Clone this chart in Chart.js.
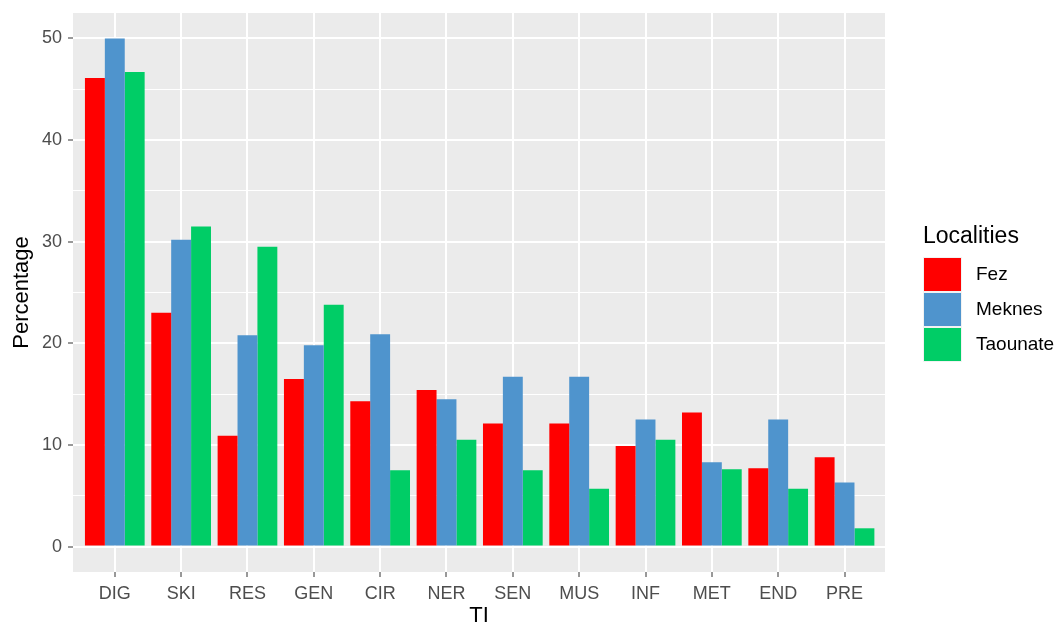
<!DOCTYPE html>
<html><head><meta charset="utf-8">
<script src="https://cdn.jsdelivr.net/npm/chart.js@4.4.1/dist/chart.umd.min.js"></script>
<style>html,body{margin:0;padding:0;background:#fff;overflow:hidden}</style>
</head><body>
<canvas id="c" width="1062" height="625" style="width:1062px;height:625px;display:block"></canvas>
<script>
const categories = ['DIG','SKI','RES','GEN','CIR','NER','SEN','MUS','INF','MET','END','PRE'];
const fez      = [46.1, 23.0, 10.9, 16.5, 14.3, 15.4, 12.1, 12.1, 9.9, 13.2, 7.7, 8.8];
const meknes   = [50.0, 30.2, 20.8, 19.8, 20.9, 14.5, 16.7, 16.7, 12.5, 8.3, 12.5, 6.3];
const taounate = [46.7, 31.5, 29.5, 23.8, 7.5, 10.5, 7.5, 5.7, 10.5, 7.6, 5.7, 1.8];
const seriesNames = ['Fez', 'Meknes', 'Taounate'];
const yMajorTicks = [0, 10, 20, 30, 40, 50];
const yMinorTicks = [5, 15, 25, 35, 45];

const FONT = "'Liberation Sans', Arial, sans-serif";
const colors = ['#FF0000', '#4F94CD', '#00CD66'];
const seriesValues = [fez, meknes, taounate];

const panelBg = {
  id: 'panelBg',
  beforeDraw(chart) {
    const {ctx, chartArea: a} = chart;
    ctx.save();
    ctx.fillStyle = '#EBEBEB';
    ctx.fillRect(a.left, a.top, a.right - a.left, a.bottom - a.top);
    ctx.restore();
  }
};

const ggLegend = {
  id: 'ggLegend',
  afterDraw(chart) {
    const ctx = chart.ctx;
    ctx.save();
    const x0 = 923;
    ctx.fillStyle = '#000';
    ctx.font = "23px " + FONT;
    ctx.textBaseline = 'alphabetic';
    ctx.textAlign = 'left';
    ctx.fillText('Localities', x0, 243);
    chart.data.datasets.forEach((ds, i) => {
      const y = 257 + i * 35;
      ctx.fillStyle = '#F2F2F2';
      ctx.fillRect(x0, y, 39, 35);
      ctx.fillStyle = ds.backgroundColor;
      ctx.fillRect(x0 + 1, y + 1, 37, 33);
      ctx.fillStyle = '#000';
      ctx.font = "19px " + FONT;
      ctx.textBaseline = 'middle';
      ctx.fillText(ds.label, 976, y + 18);
    });
    ctx.restore();
  }
};

new Chart(document.getElementById('c'), {
  type: 'bar',
  data: {
    datasets: seriesNames.map((name, s) => ({
      label: name,
      data: seriesValues[s].map((v, i) => ({x: i, y: v})),
      backgroundColor: colors[s],
      borderWidth: 0,
      categoryPercentage: 0.9,
      barPercentage: 1.0
    }))
  },
  options: {
    responsive: false,
    animation: false,
    devicePixelRatio: 1,
    layout: {padding: {left: 0, right: 177, top: 13, bottom: 0}},
    plugins: {legend: {display: false}, tooltip: {enabled: false}},
    scales: {
      x: {
        type: 'linear',
        min: -0.63,
        max: categories.length - 1 + 0.61,
        offset: false,
        afterBuildTicks: (axis) => { axis.ticks = categories.map((c, i) => ({value: i})); },
        afterFit: (axis) => { axis.height = 53; axis.paddingLeft = 0; axis.paddingRight = 0; },
        grid: {
          offset: false,
          color: '#FFFFFF',
          lineWidth: 2,
          drawTicks: true,
          tickLength: 5,
          tickColor: '#333333',
          tickWidth: 1
        },
        border: {display: false},
        ticks: {
          autoSkip: false,
          maxRotation: 0,
          padding: 6,
          color: '#4D4D4D',
          font: {family: FONT, size: 18},
          callback: (v) => categories[v]
        },
        title: {
          display: true,
          text: 'TI',
          color: '#000',
          font: {family: FONT, size: 22, lineHeight: 0.85},
          padding: {top: 0, bottom: 0}
        }
      },
      y: {
        min: -2.5,
        max: 52.5,
        afterBuildTicks: (axis) => {
          axis.ticks = yMajorTicks.concat(yMinorTicks).sort((a, b) => a - b).map(v => ({value: v}));
        },
        afterFit: (axis) => { axis.width = 73; axis.paddingTop = 0; axis.paddingBottom = 0; },
        grid: {
          color: '#FFFFFF',
          lineWidth: (ctx) => (yMajorTicks.includes(ctx.tick && ctx.tick.value) ? 2 : 1),
          drawTicks: true,
          tickLength: 5,
          tickColor: (ctx) => (yMajorTicks.includes(ctx.tick && ctx.tick.value) ? '#333333' : 'rgba(0,0,0,0)'),
          tickWidth: 1
        },
        border: {display: false},
        ticks: {
          autoSkip: false,
          padding: 6,
          color: '#4D4D4D',
          font: {family: FONT, size: 18},
          callback: (v) => (yMajorTicks.includes(v) ? String(v) : '')
        },
        title: {
          display: true,
          text: 'Percentage',
          color: '#000',
          font: {family: FONT, size: 22, lineHeight: 1},
          padding: {top: 11, bottom: 0}
        }
      }
    }
  },
  plugins: [panelBg, ggLegend]
});
</script>
</body></html>
